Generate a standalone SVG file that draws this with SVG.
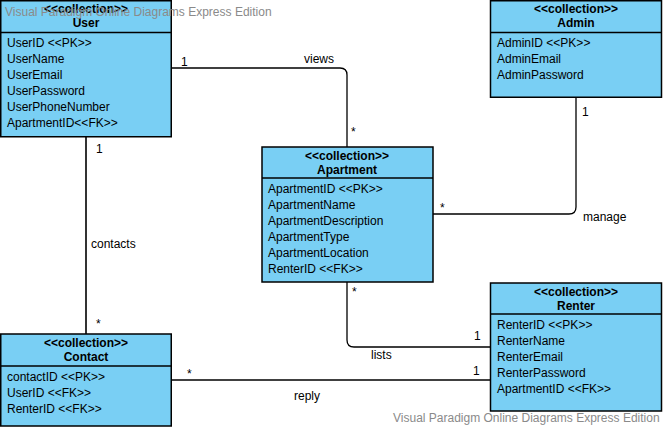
<svg xmlns="http://www.w3.org/2000/svg" width="664" height="428" viewBox="0 0 664 428">
<style>
.box{fill:#79CFF4;stroke:#000;stroke-width:1.5}
.div{stroke:#000;stroke-width:1.5}
text{font-family:"Liberation Sans",Arial,sans-serif;font-size:12px;fill:#000}
.h{font-weight:bold;text-anchor:middle}
.c{fill:none;stroke:#000;stroke-width:1.3}
.wm{fill:#8a8a8a;font-size:12px}
</style>
<rect width="664" height="428" fill="#fff"/>
<g id="connectors">
<path class="c" d="M171 68 H340 Q347 68 347 75 V147"/>
<path class="c" d="M576 97 V207 Q576 214 569 214 H433"/>
<path class="c" d="M347 282 V340 Q347 347 354 347 H490"/>
<path d="M86 137 V334" fill="none" stroke="#333" stroke-width="2"/>
<path class="c" d="M171 380 H490"/>
<text x="181" y="66">1</text>
<text x="304" y="63">views</text>
<text x="351" y="136">*</text>
<text x="582" y="116">1</text>
<text x="440" y="212">*</text>
<text x="583" y="221">manage</text>
<text x="352" y="296">*</text>
<text x="474" y="340">1</text>
<text x="371" y="359">lists</text>
<text x="96" y="153">1</text>
<text x="91" y="248">contacts</text>
<text x="96" y="328">*</text>
<text x="187" y="378">*</text>
<text x="473" y="375">1</text>
<text x="294" y="400">reply</text>
</g>
<g id="User">
<rect class="box" x="0.75" y="0.75" width="170.5" height="136"/>
<line class="div" x1="0" y1="32.5" x2="171" y2="32.5"/>
<text class="h" x="86" y="13">&lt;&lt;collection&gt;&gt;</text>
<text class="h" x="86" y="27">User</text>
<text x="7" y="47">UserID &lt;&lt;PK&gt;&gt;</text>
<text x="7" y="63">UserName</text>
<text x="7" y="79">UserEmail</text>
<text x="7" y="95">UserPassword</text>
<text x="7" y="111">UserPhoneNumber</text>
<text x="7" y="127">ApartmentID&lt;&lt;FK&gt;&gt;</text>
</g>
<g id="Admin">
<rect class="box" x="490.5" y="0.75" width="171" height="96.5"/>
<line class="div" x1="490" y1="32.5" x2="662" y2="32.5"/>
<text class="h" x="576" y="13">&lt;&lt;collection&gt;&gt;</text>
<text class="h" x="576" y="27">Admin</text>
<text x="497" y="47">AdminID &lt;&lt;PK&gt;&gt;</text>
<text x="497" y="63">AdminEmail</text>
<text x="497" y="79">AdminPassword</text>
</g>
<g id="Apartment">
<rect class="box" x="262" y="147" width="171" height="135"/>
<line class="div" x1="262" y1="178" x2="433" y2="178"/>
<text class="h" x="347" y="160">&lt;&lt;collection&gt;&gt;</text>
<text class="h" x="347" y="174">Apartment</text>
<text x="268" y="193">ApartmentID &lt;&lt;PK&gt;&gt;</text>
<text x="268" y="209">ApartmentName</text>
<text x="268" y="225">ApartmentDescription</text>
<text x="268" y="241">ApartmentType</text>
<text x="268" y="257">ApartmentLocation</text>
<text x="268" y="273">RenterID &lt;&lt;FK&gt;&gt;</text>
</g>
<g id="Renter">
<rect class="box" x="490.5" y="283" width="171" height="128"/>
<line class="div" x1="490" y1="314" x2="662" y2="314"/>
<text class="h" x="576" y="296">&lt;&lt;collection&gt;&gt;</text>
<text class="h" x="576" y="310">Renter</text>
<text x="497" y="329">RenterID &lt;&lt;PK&gt;&gt;</text>
<text x="497" y="345">RenterName</text>
<text x="497" y="361">RenterEmail</text>
<text x="497" y="377">RenterPassword</text>
<text x="497" y="393">ApartmentID &lt;&lt;FK&gt;&gt;</text>
</g>
<g id="Contact">
<rect class="box" x="0.75" y="334" width="170.5" height="92"/>
<line class="div" x1="0" y1="366" x2="171" y2="366"/>
<text class="h" x="86" y="347">&lt;&lt;collection&gt;&gt;</text>
<text class="h" x="86" y="361">Contact</text>
<text x="7" y="381">contactID &lt;&lt;PK&gt;&gt;</text>
<text x="7" y="397">UserID &lt;&lt;FK&gt;&gt;</text>
<text x="7" y="413">RenterID &lt;&lt;FK&gt;&gt;</text>
</g>
<text class="wm" x="5" y="16">Visual Paradigm Online Diagrams Express Edition</text>
<text class="wm" x="393" y="422">Visual Paradigm Online Diagrams Express Edition</text>
</svg>
